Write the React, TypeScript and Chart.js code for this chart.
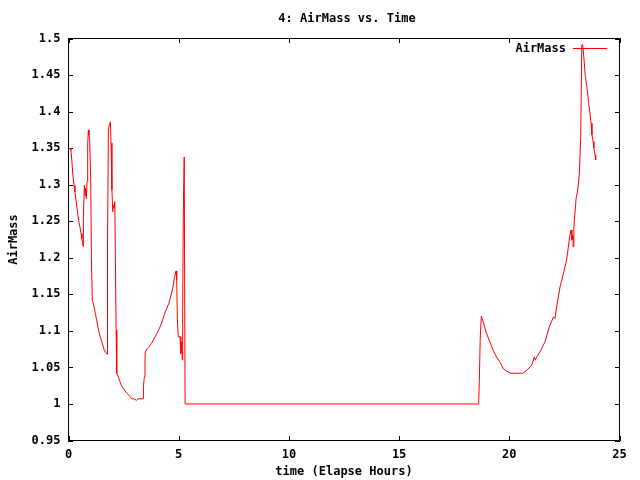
import React, { useEffect, useRef } from "react";
import { Chart, registerables } from "chart.js";

Chart.register(...registerables);

const chartTitle = "4: AirMass vs. Time";
const xAxisTitle = "time (Elapse Hours)";
const yAxisTitle = "AirMass";
const seriesLabel = "AirMass";

const xTickStep = 5;
const xMin = 0;
const xMax = 25;
const yTickStep = 0.05;
const yMin = 0.95;
const yMax = 1.5;

const timeHours = [
  0.07, 0.11, 0.15, 0.19, 0.25, 0.29, 0.34, 0.4, 0.46, 0.52, 0.57, 0.61, 0.66, 0.67,
  0.68, 0.72, 0.75, 0.78, 0.81, 0.84, 0.87, 0.9, 0.93, 0.96, 1.01, 1.04, 1.08,
  1.13, 1.17, 1.22, 1.26, 1.31, 1.35, 1.4, 1.44, 1.49, 1.53, 1.58, 1.62, 1.67, 1.76,
  1.77, 1.81, 1.85, 1.9, 1.93, 1.97, 2.01, 2.03, 2.06, 2.1, 2.12, 2.16, 2.19,
  2.26, 2.34, 2.41, 2.49, 2.56, 2.64, 2.71, 2.79, 2.87, 2.97, 3.08, 3.15, 3.39,
  3.4, 3.44, 3.47, 3.48, 3.58, 3.67, 3.77, 3.88, 4.0, 4.12, 4.23, 4.33, 4.46, 4.56,
  4.65, 4.73, 4.8, 4.88, 4.91, 4.94, 4.98, 5.06, 5.09, 5.1, 5.14, 5.16, 5.18, 5.21,
  5.25, 5.29,
  18.61, 18.64, 18.68, 18.73, 18.82, 18.97, 19.12, 19.27, 19.43, 19.58, 19.73,
  19.88, 20.06, 20.61, 20.79, 21.02, 21.13, 21.18, 21.22, 21.39, 21.62, 21.81,
  22.0, 22.07, 22.15, 22.3, 22.45, 22.6, 22.68, 22.75, 22.8, 22.84, 22.89, 22.9,
  22.93, 22.98, 23.03, 23.09, 23.13, 23.18, 23.24, 23.29, 23.33, 23.39, 23.45,
  23.51, 23.56, 23.6, 23.65, 23.71, 23.75, 23.8, 23.84, 23.89, 23.92,
];

const airMass = [
  1.35, 1.347, 1.334, 1.316, 1.299, 1.29, 1.279, 1.265, 1.251, 1.242, 1.233, 1.226, 1.217, 1.215,
  1.256, 1.299, 1.285, 1.295, 1.281, 1.304, 1.354, 1.375, 1.368, 1.361, 1.304, 1.199, 1.142,
  1.137, 1.131, 1.124, 1.117, 1.11, 1.103, 1.096, 1.092, 1.087, 1.083, 1.078, 1.074, 1.071, 1.068,
  1.217, 1.375, 1.382, 1.386, 1.357, 1.293, 1.263, 1.272, 1.268, 1.277, 1.22, 1.101, 1.042,
  1.037, 1.03, 1.025, 1.021, 1.018, 1.015, 1.013, 1.01, 1.007, 1.007, 1.005, 1.007, 1.007,
  1.023, 1.037, 1.055, 1.071, 1.076, 1.079, 1.083, 1.089, 1.096, 1.103, 1.111, 1.121, 1.131, 1.138,
  1.149, 1.158, 1.172, 1.182, 1.169, 1.115, 1.092, 1.092, 1.085, 1.069, 1.085, 1.06, 1.128, 1.267,
  1.338, 1.0,
  1.0, 1.032, 1.089, 1.12, 1.112, 1.096, 1.085, 1.073, 1.064, 1.057, 1.048,
  1.045, 1.042, 1.042, 1.046, 1.053, 1.064, 1.06, 1.063, 1.071, 1.085, 1.105,
  1.119, 1.117, 1.133, 1.16, 1.178, 1.197, 1.215, 1.231, 1.238, 1.224, 1.231, 1.215,
  1.242, 1.261, 1.281, 1.29, 1.299, 1.316, 1.366, 1.491, 1.492, 1.471, 1.448,
  1.436, 1.423, 1.411, 1.4, 1.384, 1.368, 1.359, 1.35, 1.341, 1.334,
];

const FONT_FAMILY = "'DejaVu Sans Mono', 'Liberation Mono', monospace";
const FONT = { family: FONT_FAMILY, size: 12, weight: "bold" as const, lineHeight: 1 };

const frameAndDecor = {
  id: "frameAndDecor",
  beforeDatasetsDraw(chart: any) {
    const { ctx, chartArea } = chart;
    const { left, right, top, bottom } = chartArea;
    const xs = chart.scales.x;
    const ys = chart.scales.y;
    const L = Math.floor(left);
    const R = Math.floor(right);
    const T = Math.floor(top);
    const B = Math.floor(bottom);
    const tl = 5;
    ctx.save();
    ctx.strokeStyle = "#000";
    ctx.lineWidth = 1;
    ctx.beginPath();
    ctx.rect(L + 0.5, T + 0.5, R - L, B - T);
    xs.ticks.forEach((t: any) => {
      const px = Math.round(xs.getPixelForValue(t.value)) + 0.5;
      ctx.moveTo(px, B + 1);
      ctx.lineTo(px, B + 1 - tl);
      ctx.moveTo(px, T);
      ctx.lineTo(px, T + tl);
    });
    ys.ticks.forEach((t: any) => {
      const py = Math.round(ys.getPixelForValue(t.value)) + 0.5;
      ctx.moveTo(L, py);
      ctx.lineTo(L + tl, py);
      ctx.moveTo(R + 1, py);
      ctx.lineTo(R + 1 - tl, py);
    });
    ctx.stroke();
    ctx.restore();
  },
  afterDraw(chart: any) {
    const { ctx, chartArea } = chart;
    const ds = chart.data.datasets[0];
    ctx.save();
    ctx.fillStyle = "#000";
    ctx.font = `bold 12px ${FONT_FAMILY}`;
    // title
    ctx.textAlign = "center";
    ctx.textBaseline = "middle";
    ctx.fillText(chartTitle, (chartArea.left + chartArea.right) / 2 + 3, 19);
    // legend
    ctx.textAlign = "right";
    ctx.fillText(ds.label, 566, 49);
    ctx.strokeStyle = ds.borderColor;
    ctx.lineWidth = 1;
    ctx.beginPath();
    ctx.moveTo(573, 48.5);
    ctx.lineTo(607, 48.5);
    ctx.stroke();
    ctx.restore();
  },
};

function fmt(v: number) {
  return String(Number(v.toFixed(2)));
}

export default function App() {
  const ref = useRef<HTMLCanvasElement | null>(null);
  useEffect(() => {
    if (!ref.current) return;
    const points = timeHours.map((t, i) => ({ x: t, y: airMass[i] }));
    const chart = new Chart(ref.current, {
      type: "line",
      data: {
        datasets: [
          {
            label: seriesLabel,
            data: points,
            borderColor: "#ff0000",
            backgroundColor: "#ff0000",
            borderWidth: 1,
            pointRadius: 0,
            tension: 0,
            fill: false,
          },
        ],
      },
      options: {
        animation: false,
        responsive: false,
        devicePixelRatio: 1,
        layout: { padding: { left: 0, right: 20.5, top: 38.5, bottom: 0 } },
        plugins: {
          legend: { display: false },
          title: { display: false },
          tooltip: { enabled: false },
        },
        scales: {
          x: {
            type: "linear",
            min: xMin,
            max: xMax,
            grid: { display: false, drawTicks: false },
            border: { display: false },
            ticks: {
              stepSize: xTickStep,
              color: "#000",
              font: FONT,
              padding: 8,
              maxRotation: 0,
              callback: (v: any) => fmt(Number(v)),
            },
            title: {
              display: true,
              text: xAxisTitle,
              color: "#000",
              font: FONT,
              padding: { top: 0, bottom: 2 },
            },
            afterFit: (s: any) => {
              s.height = 39.5;
            },
          },
          y: {
            type: "linear",
            min: yMin,
            max: yMax,
            grid: { display: false, drawTicks: false },
            border: { display: false },
            ticks: {
              stepSize: yTickStep,
              color: "#000",
              font: FONT,
              padding: 8,
              callback: (v: any) => fmt(Number(v)),
            },
            title: {
              display: true,
              text: yAxisTitle,
              color: "#000",
              font: FONT,
              padding: { top: 8, bottom: 0 },
            },
            afterFit: (s: any) => {
              s.width = 68.5;
            },
          },
        },
      },
      plugins: [frameAndDecor],
    });
    return () => chart.destroy();
  }, []);
  return (
    <div style={{ position: "absolute", left: 0, top: 0, width: 640, height: 480, background: "#fff" }}>
      <canvas ref={ref} width={640} height={480} />
    </div>
  );
}
